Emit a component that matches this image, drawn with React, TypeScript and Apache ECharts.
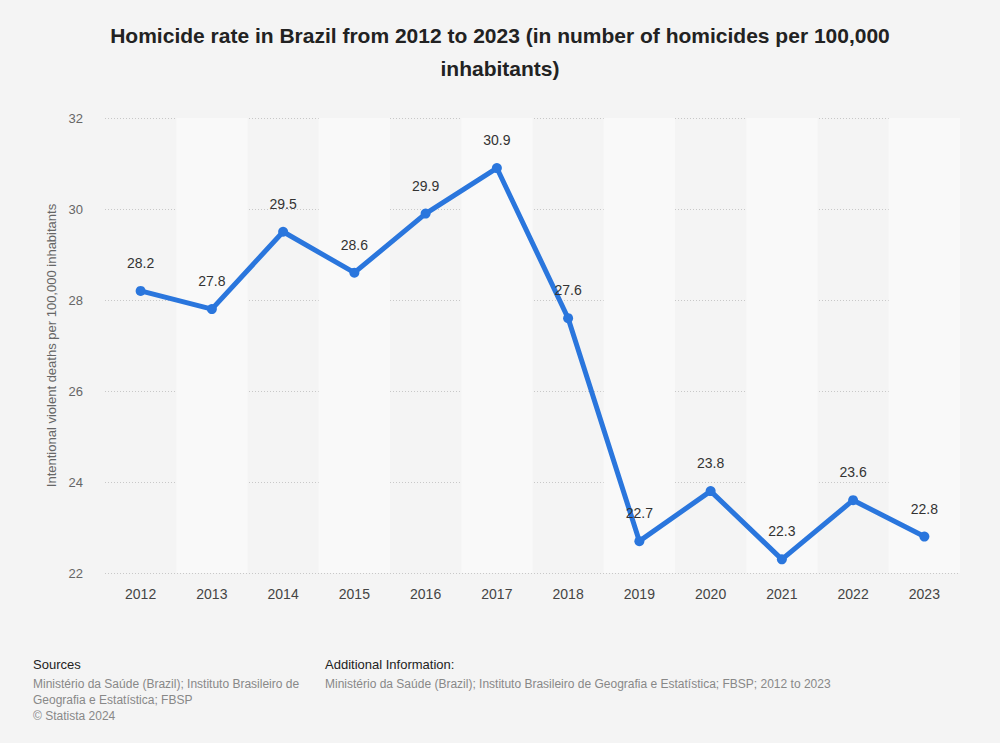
import React, { useEffect, useRef } from "react";
import * as echarts from "echarts";

const years = ["2012", "2013", "2014", "2015", "2016", "2017", "2018", "2019", "2020", "2021", "2022", "2023"];
const rates = [28.2, 27.8, 29.5, 28.6, 29.9, 30.9, 27.6, 22.7, 23.8, 22.3, 23.6, 22.8];
const titleText = "Homicide rate in Brazil from 2012 to 2023 (in number of homicides per 100,000\ninhabitants)";
const yAxisName = "Intentional violent deaths per 100,000 inhabitants";
const sourcesHead = "Sources";
const sourcesBody = "Ministério da Saúde (Brazil); Instituto Brasileiro de\nGeografia e Estatística; FBSP\n© Statista 2024";
const addHead = "Additional Information:";
const addBody = "Ministério da Saúde (Brazil); Instituto Brasileiro de Geografia e Estatística; FBSP; 2012 to 2023";

const FONT = "'Liberation Sans', Arial, Helvetica, sans-serif";

export default function App() {
  const ref = useRef<HTMLDivElement>(null);
  useEffect(() => {
    if (!ref.current) return;
    const chart = echarts.init(ref.current, null, { renderer: "svg" });
    chart.setOption({
      animation: false,
      backgroundColor: "#f4f4f4",
      textStyle: { fontFamily: FONT },
      title: {
        text: titleText,
        left: "center",
        top: 14,
        textStyle: { fontFamily: FONT, fontSize: 21, fontWeight: "bold", color: "#222", lineHeight: 33 },
      },
      grid: { left: 105, right: 40, top: 118, bottom: 170, containLabel: false },
      xAxis: {
        type: "category",
        data: years,
        boundaryGap: true,
        axisLine: { show: false },
        axisTick: { show: false },
        axisLabel: { color: "#444", fontSize: 14, margin: 14, fontFamily: FONT },
        splitArea: { show: true, areaStyle: { color: ["rgba(0,0,0,0)", "#f9f9f9"] } },
      },
      yAxis: {
        type: "value",
        min: 22,
        max: 32,
        interval: 2,
        name: yAxisName,
        nameLocation: "middle",
        nameRotate: 90,
        nameGap: 46,
        nameTextStyle: { color: "#666", fontSize: 13, fontFamily: FONT },
        axisLine: { show: false },
        axisTick: { show: false },
        axisLabel: { color: "#666", fontSize: 13, margin: 22, fontFamily: FONT },
        splitLine: { show: true, lineStyle: { color: "#c8c8c8", type: [1, 2], width: 1 } },
      },
      series: [
        {
          type: "line",
          data: rates,
          symbol: "circle",
          symbolSize: 10,
          lineStyle: { color: "#2a76dd", width: 5 },
          itemStyle: { color: "#2a76dd" },
          label: {
            show: true,
            position: "top",
            distance: 16,
            color: "#333",
            fontSize: 14,
            fontFamily: FONT,
            formatter: (p: any) => p.value.toFixed(1),
          },
        },
      ],
      graphic: [
        { type: "text", left: 33, top: 658, style: { text: sourcesHead, fontSize: 13, fill: "#222", fontFamily: FONT } },
        { type: "text", left: 33, top: 676, style: { text: sourcesBody, fontSize: 12, lineHeight: 16, fill: "#888", fontFamily: FONT } },
        { type: "text", left: 325, top: 658, style: { text: addHead, fontSize: 13, fill: "#222", fontFamily: FONT } },
        { type: "text", left: 325, top: 676, style: { text: addBody, fontSize: 12, lineHeight: 16, fill: "#888", fontFamily: FONT } },
      ],
    });
    return () => chart.dispose();
  }, []);
  return <div ref={ref} style={{ position: "absolute", left: 0, top: 0, width: 1000, height: 743 }} />;
}
